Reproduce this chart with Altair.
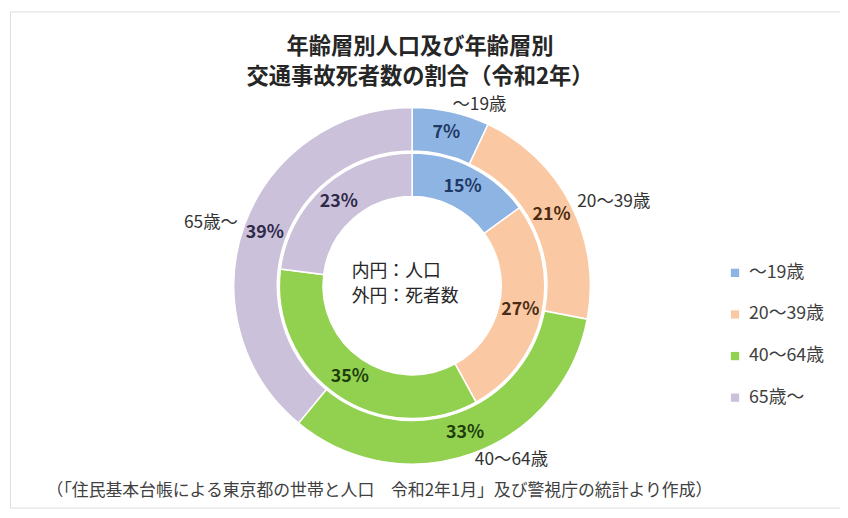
import math
import altair as alt
import pandas as pd

# ---- data ----
categories = ["〜19歳", "20〜39歳", "40〜64歳", "65歳〜"]
population_pct = [15, 27, 35, 23]   # inner ring (人口)
deaths_pct = [7, 21, 33, 39]        # outer ring (死者数)
colors = ["#8EB4E3", "#FAC9A3", "#92D050", "#CCC1DA"]
label_colors = ["#1F3864", "#4A2C14", "#1E3F0C", "#2E2A4A"]
title_lines = ["年齢層別人口及び年齢層別", "交通事故死者数の割合（令和2年）"]
center_note = ["内円：人口", "外円：死者数"]
footer_text = "（「住民基本台帳による東京都の世帯と人口　令和2年1月」及び警視庁の統計より作成）"

FONT = "Noto Sans CJK JP"


def ring_frame(values, ring):
    rows = []
    cum = 0.0
    for i, (c, v) in enumerate(zip(categories, values)):
        mid = cum + v / 2.0
        rows.append({
            "ring": ring, "idx": i, "category": c, "value": v,
            "mid": mid, "label": f"{v}%",
            "side": "right" if mid < 50 else "left",
        })
        cum += v
    return pd.DataFrame(rows)


inner_df = ring_frame(population_pct, "inner")
outer_df = ring_frame(deaths_pct, "outer")

CX, CY = 406, 277
theta_scale = alt.Scale(domain=[0, 100])
color_scale = alt.Scale(domain=categories, range=colors)
label_scale = alt.Scale(domain=categories, range=label_colors)

legend = alt.Legend(
    title=None, orient="none", legendX=723, legendY=255,
    symbolType="square", symbolSize=70, symbolStrokeWidth=0,
    labelFontSize=18, labelFont=FONT, labelColor="#404040",
    rowPadding=24, labelOffset=5,
)

inner_arc = alt.Chart(inner_df).mark_arc(
    radius=134, radius2=90, stroke="white", strokeWidth=1.5
).encode(
    theta=alt.Theta("value:Q", stack=True, scale=theta_scale),
    order=alt.Order("idx:Q"),
    color=alt.Color("category:N", scale=color_scale, legend=legend),
    x=alt.value(CX), y=alt.value(CY),
)

outer_arc = alt.Chart(outer_df).mark_arc(
    radius=180, radius2=136, stroke="white", strokeWidth=1.5
).encode(
    theta=alt.Theta("value:Q", stack=True, scale=theta_scale),
    order=alt.Order("idx:Q"),
    color=alt.Color("category:N", scale=color_scale, legend=legend),
    x=alt.value(CX), y=alt.value(CY),
)


def pct_text(df, r):
    return alt.Chart(df).mark_text(
        radius=r, fontSize=18, fontWeight="bold", font=FONT
    ).encode(
        theta=alt.Theta("mid:Q", scale=theta_scale),
        text="label:N",
        fill=alt.Fill("category:N", scale=label_scale, legend=None),
        x=alt.value(CX), y=alt.value(CY),
    )


inner_text = pct_text(inner_df, 112)
outer_text = pct_text(outer_df, 158)


def cat_text(side, align):
    return alt.Chart(outer_df).transform_filter(
        f"datum.side == '{side}'"
    ).mark_text(radius=187, align=align, fontSize=17.5, font=FONT, color="#333333").encode(
        theta=alt.Theta("mid:Q", scale=theta_scale),
        text="category:N",
        x=alt.value(CX), y=alt.value(CY),
    )


cat_right = cat_text("right", "left")
cat_left = cat_text("left", "right")

note = alt.Chart(pd.DataFrame({"t": ["\n".join(center_note)]})).mark_text(
    align="left", baseline="middle", lineBreak="\n", lineHeight=25,
    fontSize=18, font=FONT, color="#262626", dx=-61,
).encode(text="t:N", x=alt.value(CX), y=alt.value(CY - 14))

footer = alt.Chart(pd.DataFrame({"t": [footer_text]})).mark_text(
    fontSize=17, font=FONT, color="#404040",
).encode(text="t:N", x=alt.value(373), y=alt.value(484))

chart = alt.layer(
    outer_arc, inner_arc, outer_text, inner_text, cat_right, cat_left, note, footer
).properties(
    width=838, height=501,
    autosize=alt.AutoSizeParams(type="none"),
    padding={"left": 2, "top": 1, "right": 0, "bottom": 0},
    title=alt.TitleParams(
        text=title_lines, font=FONT, fontSize=22.5, fontWeight="bold",
        color="#262626", anchor="middle", frame="group", lineHeight=30,
        offset=0, baseline="top", dx=-5, dy=78,
    ),
).configure_view(
    stroke="#A6A6A6", strokeWidth=1.5
).configure(background="white")

chart.save("out.html", embed_options={"renderer": "svg", "actions": False})
